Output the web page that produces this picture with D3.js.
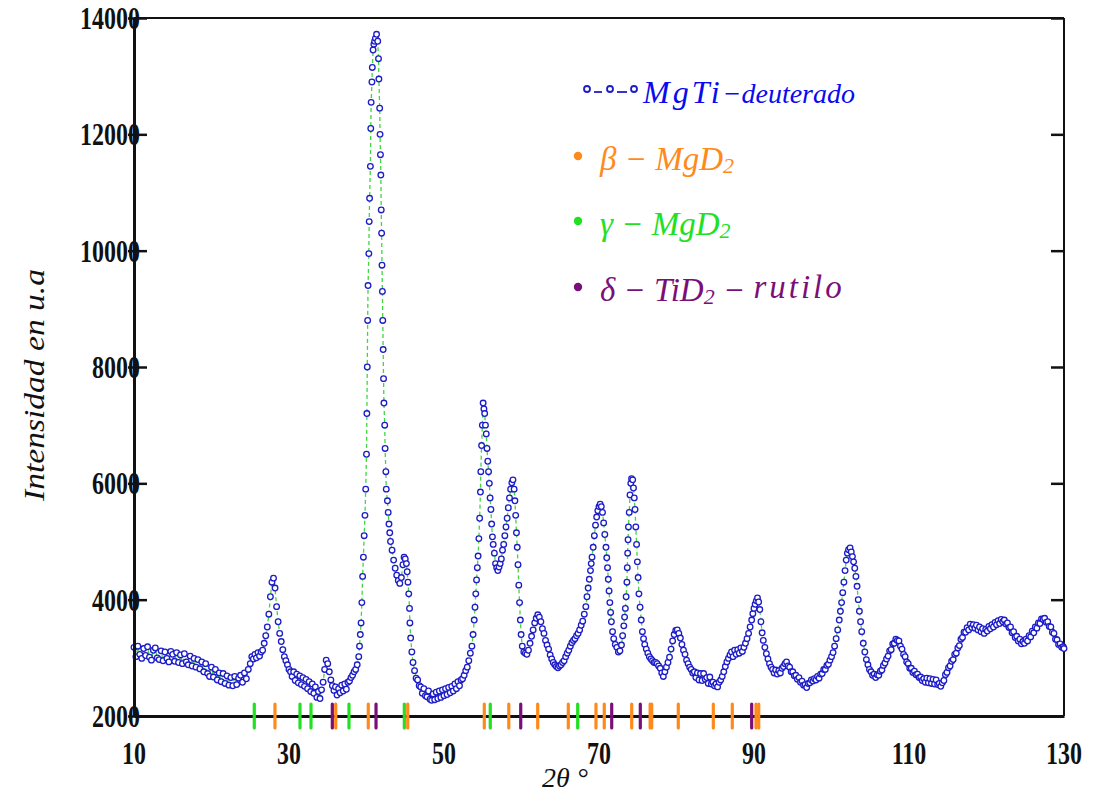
<!DOCTYPE html>
<html><head><meta charset="utf-8">
<script src="https://cdn.jsdelivr.net/npm/d3@7"></script>
<style>
html,body{margin:0;padding:0;background:#fff;}
svg{display:block;}
</style></head>
<body>
<svg id="chart" width="1094" height="793"></svg>
<script>
// ---------------- DATA ----------------
// [2theta, intensity]
const bgStart = [
[10.00,3180],[10.25,3020],[10.50,3200],[10.75,3060],[11.00,2990],[11.25,3160],[11.50,3040],[11.75,3190],
[12.00,3010],[12.25,2960],[12.50,3130],[12.75,3170],[13.00,3000],[13.25,2970],[13.50,3120],[13.75,2950],
[14.00,3100],[14.25,2990],[14.50,2930],[14.75,3110],[15.00,3060],[15.25,2940],[15.50,3090],[15.75,2920],
[16.00,3050],[16.25,2900],[16.50,3070],[16.75,2930],[17.00,2880],[17.25,3030],[17.50,2860],[17.75,2990],
[18.00,2840],[18.25,2970],[18.50,2810],[18.75,2930],[19.00,2760],[19.25,2900],[19.50,2730],[19.75,2680],
[20.00,2840],[20.25,2670],[20.50,2800],[20.75,2620],[21.00,2740],[21.25,2590],[21.50,2730],[21.75,2560],
[22.00,2690],[22.25,2530],[22.50,2660],[22.75,2520],[23.00,2680],[23.25,2540],[23.50,2650],[23.75,2700],
[24.00,2580],[24.25,2740],[24.50,2640],[24.75,2800]
];
const peak28Region = [
[25.0,2900],[25.2,3020],[25.4,2980],[25.6,3060],[25.8,3000],[26.0,3090],[26.2,3030],[26.4,3100],[26.6,3130],
[26.8,3250],[27.0,3380],[27.2,3530],[27.4,3750],[27.6,4050],[27.8,4300],[28.0,4370],[28.2,4200],[28.4,3880],
[28.6,3620],[28.8,3420],[29.0,3280],[29.2,3140],[29.4,3020],[29.6,2950],[29.8,2880],[30.0,2800],[30.2,2760],
[30.4,2680],[30.6,2760],[30.8,2610],[31.0,2720],[31.2,2570],[31.4,2690],[31.6,2540],[31.8,2660],[32.0,2510],
[32.2,2630],[32.4,2470],[32.6,2590],[32.8,2420],[33.0,2550],[33.2,2390],[33.4,2500],[33.6,2320],[33.8,2420],
[34.0,2300],[34.2,2450],[34.4,2580],[34.6,2800],[34.8,2960],[35.0,2900],[35.2,2760],[35.4,2620],[35.6,2520],
[35.8,2440],[36.0,2500],[36.2,2360],[36.4,2470],[36.6,2400],[36.8,2530],[37.0,2430],[37.2,2550],[37.4,2460],
[37.6,2580],[37.8,2600],[38.0,2660],[38.2,2700],[38.4,2760]
];
const mainPeak = [
[38.6,2800],[38.8,2880],[39.0,3020],[39.1,3200],[39.2,3400],[39.3,3600],[39.4,3950],[39.5,4400],[39.6,4730],
[39.7,5100],[39.8,5450],[39.9,5900],[40.0,6500],[40.05,7200],[40.1,8000],[40.15,8800],[40.2,9400],[40.3,9950],
[40.35,10500],[40.4,10900],[40.5,11450],[40.55,12100],[40.6,12550],[40.7,12900],[40.75,13150],[40.85,13450],
[40.95,13550],[41.05,13600],[41.15,13650],[41.3,13720],[41.45,13600],[41.55,13300],[41.6,12950],[41.7,12450],
[41.75,12000],[41.8,11650],[41.85,11300],[41.9,10700],[41.95,10300],[42.0,9750],[42.05,9300],[42.1,8800],
[42.15,8300],[42.2,7800],[42.25,7380],[42.35,7000],[42.4,6600],[42.5,6200],[42.55,5900],[42.7,5700],[42.8,5500],
[42.9,5300],[43.0,5150],[43.1,5000],[43.3,4850],[43.5,4680],[43.7,4540],[43.9,4420],[44.1,4330],[44.3,4280],
[44.5,4380],[44.7,4600],[44.85,4730],[45.0,4700],[45.15,4620],[45.25,4480],[45.35,4300],[45.45,4100],
[45.55,3850],[45.6,3600],[45.7,3340],[45.85,3100],[46.0,2920],[46.2,2780],[46.4,2650]
];
const peak55Region = [
[46.6,2620],[46.8,2520],[47.0,2500],[47.2,2390],[47.4,2470],[47.6,2350],[47.8,2330],[48.0,2430],[48.2,2290],
[48.4,2270],[48.6,2380],[48.8,2280],[49.0,2410],[49.2,2300],[49.4,2430],[49.6,2320],[49.8,2450],[50.0,2350],
[50.2,2470],[50.4,2370],[50.6,2490],[50.8,2400],[51.0,2510],[51.2,2430],[51.4,2550],[51.6,2470],[51.8,2590],
[52.0,2520],[52.2,2620],[52.4,2640],[52.6,2700],[52.8,2780],[53.0,2840],[53.2,2950],[53.4,3080],[53.6,3200],
[53.75,3400],[53.9,3650],[54.0,3870],[54.1,4100],[54.2,4340],[54.3,4550],[54.4,4750],[54.5,5050],[54.6,5400],
[54.7,5850],[54.75,6200],[54.85,6650],[54.95,7000],[55.05,7380],[55.15,7280],[55.25,7200],[55.35,7000],
[55.45,6850],[55.55,6600],[55.65,6380],[55.75,6200],[55.85,6000],[55.95,5750],[56.05,5550],[56.15,5300],
[56.25,5080],[56.35,4950],[56.5,4800],[56.65,4620],[56.8,4550],[56.95,4500],[57.1,4560],[57.25,4620],
[57.4,4700],[57.55,4850],[57.7,4950],[57.85,5100],[58.0,5250],[58.15,5400],[58.3,5580],[58.45,5750],
[58.6,5900],[58.75,6010],[58.9,6060],[59.05,5900],[59.15,5700],[59.25,5450],[59.35,5150],[59.45,4900],
[59.55,4600],[59.65,4250],[59.75,3950],[59.85,3650],[59.95,3400],[60.1,3200],[60.3,3100],[60.5,3080]
];
const peak70Region = [
[60.7,3060],[60.9,3130],[61.1,3250],[61.3,3370],[61.5,3480],[61.7,3600],[61.9,3680],[62.1,3740],[62.3,3700],
[62.5,3620],[62.7,3500],[62.9,3420],[63.1,3300],[63.3,3220],[63.5,3150],[63.7,3050],[63.9,2980],[64.1,2920],
[64.3,2880],[64.5,2850],[64.7,2830],[64.9,2860],[65.1,2880],[65.3,2920],[65.5,2950],[65.7,3020],[65.9,3080],
[66.1,3130],[66.3,3200],[66.5,3260],[66.7,3300],[66.9,3330],[67.1,3380],[67.3,3420],[67.5,3480],[67.7,3560],
[67.9,3630],[68.1,3750],[68.3,3880],[68.45,4050],[68.6,4200],[68.75,4350],[68.9,4500],[69.0,4620],[69.1,4730],
[69.25,4900],[69.4,5100],[69.55,5280],[69.7,5420],[69.85,5530],[70.0,5600],[70.15,5640],[70.3,5600],[70.45,5500],
[70.6,5320],[70.75,5120],[70.9,4900],[71.0,4720],[71.1,4550],[71.2,4350],[71.3,4150],[71.4,3950],[71.5,3780],
[71.6,3620],[71.75,3450],[71.9,3330],[72.1,3230],[72.3,3180],[72.5,3100],[72.7,3120],[72.9,3220],[73.05,3380],
[73.2,3550],[73.3,3700],[73.4,3850],[73.5,4050],[73.6,4300],[73.65,4550],[73.7,4800],[73.75,5030],[73.8,5250],
[73.9,5500],[74.0,5800],[74.1,6000],[74.2,6080],[74.35,6060],[74.45,5920],[74.55,5750],[74.65,5550],[74.75,5250],
[74.85,4950],[74.95,4650],[75.05,4380],[75.15,4100],[75.3,3870],[75.45,3650],[75.6,3450],[75.75,3330],[75.9,3230],
[76.1,3150],[76.3,3080],[76.5,3020],[76.7,2980],[76.9,2950],[77.1,2920],[77.3,2920],[77.5,2900],[77.7,2860],
[77.9,2820],[78.1,2740],[78.3,2680],[78.5,2760],[78.7,2840],[78.9,2920],[79.1,3010],[79.3,3150],[79.5,3290],
[79.7,3400],[79.9,3470],[80.1,3480],[80.3,3420],[80.5,3340],[80.7,3230],[80.9,3130],[81.1,3060],[81.3,2960],
[81.5,2900],[81.7,2840],[81.9,2800],[82.1,2740],[82.3,2760],[82.5,2660],[82.7,2740],[82.9,2620],[83.1,2730],
[83.3,2610],[83.5,2730],[83.7,2630],[83.9,2660],[84.1,2560],[84.3,2670],[84.5,2550],[84.7,2580],[84.9,2520],
[85.1,2550],[85.3,2500],[85.5,2580],[85.7,2620]
];
const highAngle = [
[85.9,2680],[86.1,2760],[86.3,2850],[86.5,2930],[86.7,2990],[86.9,3050],[87.1,3100],[87.3,3020],[87.5,3130],
[87.7,3060],[87.9,3140],[88.1,3080],[88.3,3170],[88.5,3110],[88.7,3180],[88.9,3250],[89.1,3330],[89.3,3420],
[89.5,3530],[89.7,3650],[89.85,3760],[90.0,3850],[90.15,3920],[90.3,3980],[90.45,4030],[90.6,3960],[90.75,3830],
[90.9,3620],[91.05,3430],[91.2,3300],[91.4,3180],[91.6,3070],[91.8,2980],[92.0,2900],[92.2,2840],[92.4,2800],
[92.6,2740],[92.8,2790],[93.0,2720],[93.2,2780],[93.4,2740],[93.6,2820],[93.8,2850],[94.0,2900],[94.2,2930],
[94.4,2860],[94.6,2840],[94.8,2760],[95.0,2760],[95.2,2690],[95.4,2700],[95.6,2630],[95.8,2660],[96.0,2580],
[96.2,2600],[96.4,2530],[96.6,2540],[96.8,2490],[97.0,2560],[97.2,2570],[97.4,2620],[97.6,2600],[97.8,2640],
[98.0,2620],[98.2,2680],[98.4,2650],[98.6,2720],[98.8,2730],[99.0,2800],[99.2,2800],[99.4,2870],[99.6,2890],
[99.8,2960],[100.0,3020],[100.2,3090],[100.4,3200],[100.6,3330],[100.8,3480],[101.0,3650],[101.15,3800],
[101.3,3950],[101.45,4120],[101.6,4300],[101.75,4500],[101.9,4680],[102.05,4800],[102.2,4860],[102.4,4890],
[102.55,4820],[102.7,4740],[102.85,4650],[103.0,4540],[103.15,4400],[103.3,4230],[103.45,4000],[103.6,3800],
[103.75,3620],[103.9,3450],[104.1,3250],[104.3,3100],[104.5,2970],[104.7,2880],[104.9,2800],[105.1,2760],
[105.3,2700],[105.5,2720],[105.7,2660],[105.9,2710],[106.1,2700],[106.3,2770],[106.5,2790],[106.7,2870],
[106.9,2910],[107.1,2980],[107.3,3030],[107.5,3120],[107.7,3140],[107.9,3240],[108.1,3250],[108.3,3320],
[108.5,3300],[108.7,3290],[108.9,3200],[109.1,3150],[109.3,3060],[109.5,3020],[109.7,2930],[109.9,2900],
[110.1,2820],[110.3,2820],[110.5,2750],[110.7,2770],[110.9,2710],[111.1,2720],[111.3,2660],[111.5,2670],
[111.7,2610],[111.9,2640],[112.1,2580],[112.3,2650],[112.5,2570],[112.7,2640],[112.9,2560],[113.1,2630],
[113.3,2550],[113.5,2620],[113.7,2540],[113.9,2560],[114.1,2510],[114.3,2570],[114.5,2610],[114.7,2710],
[114.9,2750],[115.1,2830],[115.3,2860],[115.5,2940],[115.7,2970],[115.9,3060],[116.1,3080],[116.3,3170],
[116.5,3210],[116.7,3320],[116.9,3350],[117.1,3440],[117.3,3440],[117.5,3520],[117.7,3480],[117.9,3580],
[118.1,3520],[118.3,3570],[118.5,3510],[118.7,3560],[118.9,3480],[119.1,3530],[119.3,3450],[119.5,3500],
[119.7,3420],[119.9,3490],[120.1,3460],[120.3,3540],[120.5,3500],[120.7,3570],[120.9,3530],[121.1,3610],
[121.3,3570],[121.5,3640],[121.7,3590],[121.9,3660],[122.1,3620],[122.3,3650],[122.5,3580],[122.7,3600],
[122.9,3520],[123.1,3530],[123.3,3430],[123.5,3450],[123.7,3350],[123.9,3370],[124.1,3290],[124.3,3320],
[124.5,3240],[124.7,3280],[124.9,3250],[125.1,3320],[125.3,3290],[125.5,3380],[125.7,3360],[125.9,3460],
[126.1,3430],[126.3,3530],[126.5,3510],[126.7,3600],[126.9,3590],[127.1,3670],[127.3,3660],[127.5,3680],
[127.7,3610],[127.9,3620],[128.1,3540],[128.3,3530],[128.5,3440],[128.7,3420],[128.9,3320],[129.1,3310],
[129.3,3230],[129.5,3240],[129.7,3180],[129.9,3190],[130.0,3160]
];

// reference reflections (2theta)
const betaMgD2 = [28.19,36.03,40.23,45.32,55.20,58.36,62.09,66.04,69.61,70.68,74.22,76.6,76.8,80.23,84.75,87.2,90.26,90.61];
const gammaMgD2 = [25.52,31.42,32.84,37.74,44.88,55.97,67.25];
const deltaTiD2 = [35.59,41.23,59.90,71.64,75.33,89.70];

const xTicks = [10,30,50,70,90,110,130];
const yTicks = [2000,4000,6000,8000,10000,12000,14000];

// ---------------- CHART ----------------
const svg = d3.select("#chart");
svg.append("rect").attr("width",1094).attr("height",793).attr("fill","#fff");

const x = d3.scaleLinear().domain([10,130]).range([134,1064]);
const y = d3.scaleLinear().domain([2000,14000]).range([716,18]);

const data = [].concat(bgStart, peak28Region, mainPeak, peak55Region, peak70Region, highAngle);

const COL = {blue:"#1c1cc8", orange:"#ff8a1c", green:"#22e022", purple:"#7a0f7a", line:"#3fd63f"};

// frame (top/right)
svg.append("line").attr("x1",x(10)).attr("x2",x(130)).attr("y1",y(14000)).attr("y2",y(14000))
  .attr("stroke","#111").attr("stroke-width",2);
svg.append("line").attr("x1",x(130)).attr("x2",x(130)).attr("y1",y(14000)).attr("y2",y(2000))
  .attr("stroke","#111").attr("stroke-width",2);

// dashed connecting line
svg.append("path").datum(data)
  .attr("d", d3.line().x(d=>x(d[0])).y(d=>y(d[1])))
  .attr("fill","none").attr("stroke",COL.line).attr("stroke-width",1.3).attr("stroke-dasharray","4,3");

// points
svg.append("g").selectAll("circle").data(data).join("circle")
  .attr("cx",d=>x(d[0])).attr("cy",d=>y(d[1])).attr("r",2.8)
  .attr("fill","#fff").attr("stroke",COL.blue).attr("stroke-width",1.3);

// left axis
const yAxis = d3.axisLeft(y).tickValues(yTicks).tickSize(0).tickFormat("");
const gy = svg.append("g").attr("transform",`translate(${x(10)},0)`).call(yAxis);
gy.select(".domain").attr("stroke","#111").attr("stroke-width",3);
gy.selectAll(".tick line").attr("x1",-6).attr("x2",13).attr("stroke","#111").attr("stroke-width",2.5);

// right ticks
const yAxisR = d3.axisRight(y).tickValues(yTicks).tickSize(0).tickFormat("");
const gyr = svg.append("g").attr("transform",`translate(${x(130)},0)`).call(yAxisR);
gyr.select(".domain").remove();
gyr.selectAll(".tick line").attr("x1",-13).attr("x2",0).attr("stroke","#111").attr("stroke-width",2.5);

// bottom axis
const xAxis = d3.axisBottom(x).tickValues(xTicks).tickSize(0).tickFormat("");
const gx = svg.append("g").attr("transform",`translate(0,${y(2000)})`).call(xAxis);
gx.select(".domain").attr("stroke","#111").attr("stroke-width",3);

// reference markers
function markers(arr,color){
  svg.append("g").selectAll("line").data(arr).join("line")
    .attr("x1",d=>x(d)).attr("x2",d=>x(d)).attr("y1",704).attr("y2",728)
    .attr("stroke",color).attr("stroke-width",3.2).attr("stroke-linecap","round");
}
markers(betaMgD2,COL.orange);
markers(gammaMgD2,COL.green);
markers(deltaTiD2,COL.purple);

// tick labels (tall bold serif)
const lblFont = "'Liberation Serif','Times New Roman',serif";
svg.append("g").selectAll("g").data(yTicks).join("g")
  .attr("transform",d=>`translate(140,${y(d)}) scale(1,1.3)`)
  .append("text").attr("text-anchor","end").attr("dy","0.35em")
  .attr("font-family",lblFont).attr("font-weight","bold").attr("font-size",24).attr("fill","#111")
  .text(d=>d);
svg.append("g").selectAll("g").data(xTicks).join("g")
  .attr("transform",d=>`translate(${x(d)},753) scale(1,1.3)`)
  .append("text").attr("text-anchor","middle").attr("dy","0.35em")
  .attr("font-family",lblFont).attr("font-weight","bold").attr("font-size",24).attr("fill","#111")
  .text(d=>d);

// axis titles
svg.append("text").attr("transform","translate(44,385) rotate(-90)")
  .attr("text-anchor","middle").attr("font-family",lblFont).attr("font-style","italic")
  .attr("font-size",29).attr("fill","#111").attr("textLength",232).attr("lengthAdjust","spacingAndGlyphs")
  .text("Intensidad en u.a");
svg.append("text").attr("x",565).attr("y",787).attr("text-anchor","middle")
  .attr("font-family",lblFont).attr("font-style","italic").attr("font-size",28).attr("fill","#111")
  .text("2θ °");

// legend
const lg = svg.append("g").attr("font-family",lblFont).attr("font-style","italic");
[587,610,634].forEach(cx=>lg.append("circle").attr("cx",cx).attr("cy",89).attr("r",3)
  .attr("fill","#fff").attr("stroke",COL.blue).attr("stroke-width",1.8));
[[594,602],[617,627]].forEach(s=>lg.append("line").attr("x1",s[0]).attr("x2",s[1]).attr("y1",92).attr("y2",92)
  .attr("stroke",COL.blue).attr("stroke-width",1.8));
const t0 = lg.append("text").attr("x",643).attr("y",103).attr("fill","#0a0af0");
t0.append("tspan").attr("font-size",32).attr("letter-spacing",3).text("MgTi");
t0.append("tspan").attr("font-size",28).text("−deuterado");

const legendItems = [
  {y:156, color:COL.orange, parts:[["β − MgD",0],["2",1]]},
  {y:221, color:COL.green, parts:[["γ − MgD",0],["2",1]]},
  {y:287, color:COL.purple, parts:[["δ − TiD",0],["2",1],[" − ",0],["rutilo",2]]}
];
legendItems.forEach(it=>{
  lg.append("circle").attr("cx",578).attr("cy",it.y).attr("r",4.2).attr("fill",it.color);
  const t = lg.append("text").attr("x",600).attr("y",it.y+14).attr("fill",it.color).attr("font-size",33);
  it.parts.forEach(p=>{
    const ts = t.append("tspan").text(p[0]);
    if(p[1]===1){ ts.attr("font-size",22).attr("dy",3); }
    else if(p[1]===2){ ts.attr("letter-spacing",3); }
    if(p[1]!==1 && t.selectAll("tspan").size()>1) ts.attr("dy",-3);
  });
});
</script>
</body></html>
